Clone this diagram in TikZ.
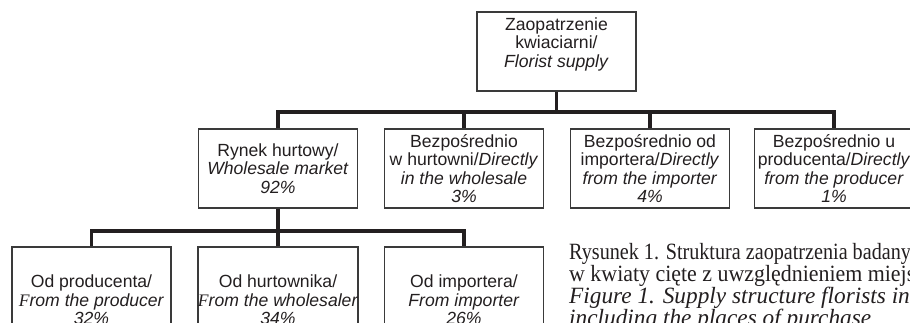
\documentclass[tikz,border=0pt]{standalone}
\usepackage{fontspec}
\setmainfont{Liberation Serif}
\setsansfont{Liberation Sans}
\usepackage{graphicx}
\definecolor{txt}{HTML}{231F20}
\definecolor{boxgray}{HTML}{3A3A3A}
\definecolor{barc}{HTML}{231F20}
\begin{document}
\begin{tikzpicture}[x=1pt,y=-1pt,
  box/.style={draw=boxgray, line width=1.1pt, rectangle, minimum width=159pt,
    minimum height=79pt, inner sep=0pt, align=center, text=txt,
    font=\sffamily\fontsize{17.6}{18.5}\selectfont},
  lowbox/.style={box, minimum height=106pt},
  bar/.style={line width=3.8pt, draw=barc, line join=miter, line cap=butt},
  captxt/.style={anchor=base west, inner sep=0pt, text=txt,
    font=\rmfamily\fontsize{23.3}{22}\selectfont}]
\useasboundingbox (0,0) rectangle (910,322);
\clip (0,0) rectangle (910,322);
\fill[white] (0,0) rectangle (910,322);
% level 1
\node[box] (top) at (556.5,51.5) {Zaopatrzenie\\kwiaciarni/\\\textit{Florist supply}\\\mbox{}};
% level 2
\node[box] (b1) at (278,168.5) {Rynek hurtowy/\\\textit{Wholesale market}\\\textit{92\%}};
\node[box] (b2) at (464,168.5) {Bezpośrednio\\w hurtowni/\textit{Directly}\\\textit{in the wholesale}\\\textit{3\%}};
\node[box] (b3) at (650,168.5) {Bezpośrednio od\\importera/\textit{Directly}\\\textit{from the importer}\\\textit{4\%}};
\node[box] (b4) at (834,168.5) {Bezpośrednio u\\producenta/\textit{Directly}\\\textit{from the producer}\\\textit{1\%}};
% level 3
\node[lowbox] (c1) at (91.5,300) {Od producenta/\\\textit{{\rmfamily F}rom the producer}\\\textit{32\%}};
\node[lowbox] (c2) at (278,300) {Od hurtownika/\\\textit{{\rmfamily F}rom the wholesaler}\\\textit{34\%}};
\node[lowbox] (c3) at (464,300) {Od importera/\\\textit{From importer}\\\textit{26\%}};
% connectors
\coordinate (j1) at (556.5,112);
\coordinate (j2) at (278,231);
\draw[bar] (top.south) -- (j1);
\draw[bar] (b1.north) |- (j1) -| (b4.north);
\draw[bar] (b2.north) -- (b2.north |- j1);
\draw[bar] (b3.north) -- (b3.north |- j1);
\draw[bar] (b1.south) -- (j2);
\draw[bar] (c1.north) |- (j2) -| (c3.north);
\draw[bar] (c2.north) -- (c2.north |- j2);
% caption
\node[captxt] (cap1) at (569,259) {\scalebox{0.865}[1]{Rysunek 1. Struktura zaopatrzenia badanych}};
\node[captxt] (cap2) at (569,281) {\scalebox{0.94}[1]{w kwiaty cięte z uwzględnieniem miejsc}};
\node[captxt] (cap3) at (569,303) {\textit{Figure 1. Supply structure florists in}};
\node[captxt] (cap4) at (569,325) {\textit{including the places of purchase}};
\end{tikzpicture}
\end{document}
